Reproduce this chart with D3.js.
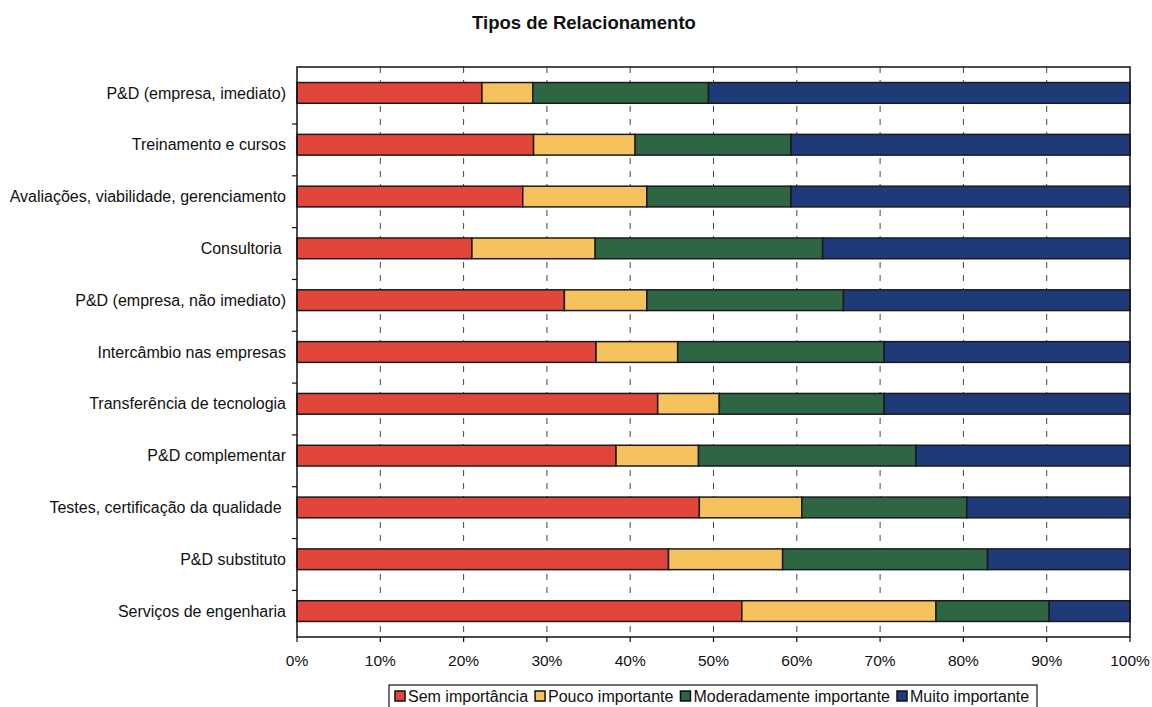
<!DOCTYPE html>
<html lang="en">
  <head>
    <meta charset="utf-8" />
    <title>Tipos de Relacionamento</title>
    <style>
      body { margin: 0; background: #fff; }
      svg text { font-family: "Liberation Sans", Arial, sans-serif; fill: #111; white-space: pre; }
    </style>
  </head>
  <body>
    <svg id="chart" width="1152" height="707"></svg>
    <script src="https://d3js.org/d3.v7.min.js"></script>
    <script>
      // categories top to bottom
      const categories = [
        "P&D (empresa, imediato)",
        "Treinamento e cursos",
        "Avaliações, viabilidade, gerenciamento",
        "Consultoria ",
        "P&D (empresa, não imediato)",
        "Intercâmbio nas empresas",
        "Transferência de tecnologia",
        "P&D complementar",
        "Testes, certificação da qualidade ",
        "P&D substituto",
        "Serviços de engenharia"
      ];
      const seriesNames = ["Sem importância", "Pouco importante", "Moderadamente importante", "Muito importante"];
      // percentages
      const semImportancia = [22.2, 28.4, 27.1, 21.0, 32.1, 35.9, 43.3, 38.3, 48.3, 44.6, 53.4];
      const poucoImportante = [6.1, 12.2, 14.9, 14.8, 9.9, 9.8, 7.4, 9.9, 12.3, 13.7, 23.3];
      const moderadamente = [21.1, 18.7, 17.3, 27.3, 23.6, 24.8, 19.8, 26.1, 19.8, 24.6, 13.6];
      const muitoImportante = [50.6, 40.7, 40.7, 36.9, 34.4, 29.5, 29.5, 25.7, 19.6, 17.1, 9.7];
      const xTicks = [0, 10, 20, 30, 40, 50, 60, 70, 80, 90, 100];

      const colors = ["#e2463a", "#f6c25e", "#2e6644", "#1f3a78"];

      const rows = categories.map((c, i) => ({
        cat: c,
        "Sem importância": semImportancia[i],
        "Pouco importante": poucoImportante[i],
        "Moderadamente importante": moderadamente[i],
        "Muito importante": muitoImportante[i]
      }));

      var margin = { top: 67, right: 22, bottom: 70, left: 297 },
        width = 1152 - margin.left - margin.right,
        height = 707 - margin.top - margin.bottom;

      var svg = d3.select("#chart");

      svg.append("text")
        .attr("x", 584)
        .attr("y", 29)
        .attr("text-anchor", "middle")
        .style("font-size", "18.5px")
        .style("font-weight", "bold")
        .text("Tipos de Relacionamento");

      var chart = svg.append("g")
        .attr("transform", "translate(" + margin.left + "," + margin.top + ")");

      var xScale = d3.scaleLinear().domain([0, 100]).range([0, width]);
      var yScale = d3.scaleBand().domain(categories).range([0, height]).paddingInner(0.6).paddingOuter(0.3);

      // dashed gridlines
      chart.selectAll(".grid")
        .data(xTicks.slice(1, -1))
        .join("line")
        .attr("class", "grid")
        .attr("x1", d => xScale(d))
        .attr("x2", d => xScale(d))
        .attr("y1", 0)
        .attr("y2", height)
        .attr("stroke", "#444")
        .attr("stroke-width", 1)
        .attr("stroke-dasharray", "6,7");

      // stacked bars
      var stack = d3.stack().keys(seriesNames)(rows);
      chart.selectAll(".series")
        .data(stack)
        .join("g")
        .attr("class", "series")
        .attr("fill", (d, i) => colors[i])
        .selectAll("rect")
        .data(d => d)
        .join("rect")
        .attr("x", d => xScale(d[0]))
        .attr("y", d => yScale(d.data.cat))
        .attr("width", d => xScale(d[1]) - xScale(d[0]))
        .attr("height", yScale.bandwidth())
        .attr("stroke", "#1a1a1a")
        .attr("stroke-width", 1.5);

      // plot frame
      chart.append("rect")
        .attr("x", 0).attr("y", 0)
        .attr("width", width).attr("height", height)
        .attr("fill", "none")
        .attr("stroke", "#111")
        .attr("stroke-width", 1.5);

      // y axis: ticks between categories, labels at band centres
      var step = yScale.step();
      var boundaries = d3.range(1, categories.length + 1).map(i => yScale(categories[0]) - step * 0.2 + i * step);
      chart.selectAll(".ytick")
        .data(boundaries.filter(b => b < height - 1))
        .join("line")
        .attr("x1", -5).attr("x2", 0)
        .attr("y1", d => d).attr("y2", d => d)
        .attr("stroke", "#111").attr("stroke-width", 1.2);

      chart.selectAll(".ylabel")
        .data(categories)
        .join("text")
        .attr("x", -11)
        .attr("y", d => yScale(d) + yScale.bandwidth() / 2)
        .attr("dy", "0.35em")
        .attr("text-anchor", "end")
        .style("font-size", "16px")
        .text(d => d);

      // x axis labels
      chart.selectAll(".xlabel")
        .data(xTicks)
        .join("text")
        .attr("x", d => xScale(d))
        .attr("y", height + 29)
        .attr("text-anchor", "middle")
        .style("font-size", "15.5px")
        .text(d => d + "%");

      chart.selectAll(".xtick")
        .data(xTicks)
        .join("line")
        .attr("x1", d => xScale(d)).attr("x2", d => xScale(d))
        .attr("y1", height).attr("y2", height + 5)
        .attr("stroke", "#111").attr("stroke-width", 1.2);

      // legend
      var legend = svg.append("g").attr("transform", "translate(389,685)");
      legend.append("rect")
        .attr("x", 0).attr("y", 0)
        .attr("width", 648).attr("height", 24)
        .attr("fill", "#fff")
        .attr("stroke", "#111")
        .attr("stroke-width", 1.2);
      var lx = 6;
      seriesNames.forEach(function (name, i) {
        var item = legend.append("g").attr("transform", "translate(" + lx + ",0)");
        item.append("rect")
          .attr("x", 0).attr("y", 6)
          .attr("width", 10).attr("height", 10)
          .attr("fill", colors[i])
          .attr("stroke", "#111")
          .attr("stroke-width", 1.5);
        var t = item.append("text")
          .attr("x", 13)
          .attr("y", 17)
          .style("font-size", "16px")
          .text(name);
        lx += 13 + t.node().getComputedTextLength() + 7;
      });
    </script>
  </body>
</html>
